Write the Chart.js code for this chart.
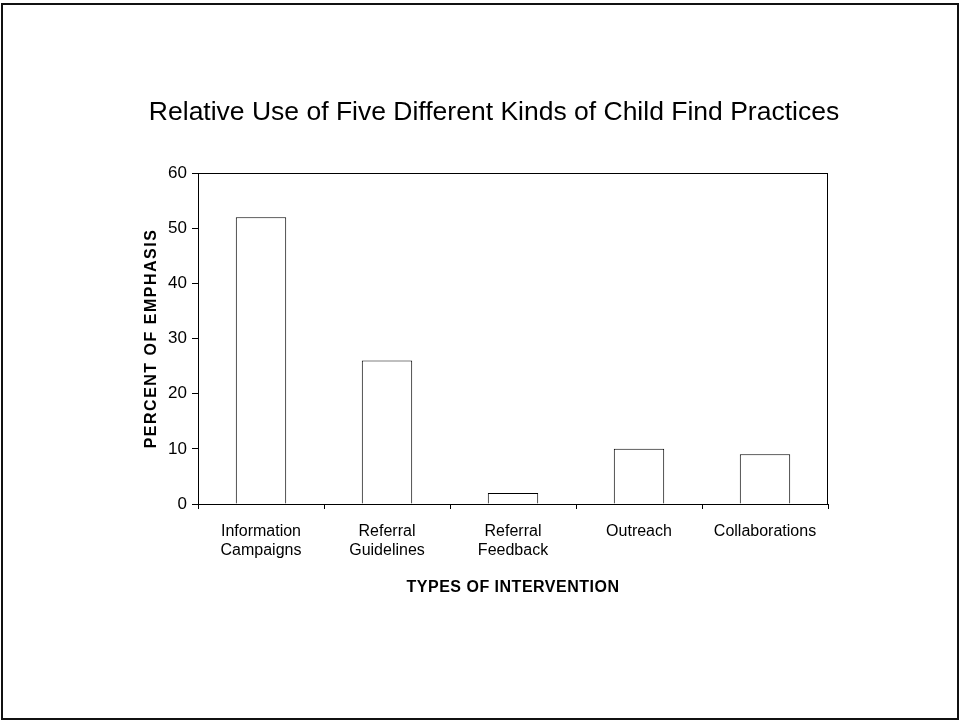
<!DOCTYPE html>
<html>
<head>
<meta charset="utf-8">
<script src="https://cdn.jsdelivr.net/npm/chart.js@4.4.0/dist/chart.umd.min.js"></script>
<style>
    html, body { margin: 0; padding: 0; background: #fff; }
    #frame {
        position: absolute; left: 1px; top: 3px;
        width: 954px; height: 713px;
        border: 2px solid #111;
    }
    #wrap { position: absolute; left: 0; top: 0; width: 959px; height: 721px; }
</style>
</head>
<body>
<div id="frame"></div>
<div id="wrap"><canvas id="chart" width="959" height="721"></canvas></div>
<script>
// data
const categories = [
    ['Information', 'Campaigns'],
    ['Referral', 'Guidelines'],
    ['Referral', 'Feedback'],
    ['Outreach'],
    ['Collaborations']
];
const percentEmphasis = [52, 26, 2, 10, 9];
const yTicks = [0, 10, 20, 30, 40, 50, 60];

const chartTitle = 'Relative Use of Five Different Kinds of Child Find Practices';
const FONT = '"Liberation Sans", Arial, sans-serif';

// title centred on the slide, not on the plot
const titlePlugin = {
    id: 'slideTitle',
    afterDraw(chart) {
        const ctx = chart.ctx;
        ctx.save();
        ctx.font = '26.5px ' + FONT;
        ctx.fillStyle = '#000';
        ctx.textAlign = 'center';
        ctx.textBaseline = 'middle';
        ctx.fillText(chartTitle, 494, 113);
        ctx.restore();
    }
};

// plot frame (top and right edges) + spaced-out axis titles
const framePlugin = {
    id: 'plotFrame',
    afterLayout(chart) {
        const spacing = { x: '0.5px', y: '1.5px' };
        Object.keys(spacing).forEach(id => {
            const sc = chart.scales[id];
            if (sc._spaced) return;
            const orig = sc.drawTitle;
            sc.drawTitle = function () {
                const ctx = this.ctx;
                const old = ctx.letterSpacing;
                ctx.letterSpacing = spacing[id];
                orig.apply(this, arguments);
                ctx.letterSpacing = old || '0px';
            };
            sc._spaced = true;
        });
    },
    afterDatasetsDraw(chart) {
        const a = chart.chartArea;
        const ctx = chart.ctx;
        ctx.save();
        ctx.strokeStyle = '#000';
        ctx.lineWidth = 1;
        ctx.strokeRect(a.left + 0.5, a.top + 0.5, a.right - a.left - 1, a.bottom - a.top);
        ctx.restore();
    }
};

new Chart(document.getElementById('chart'), {
    type: 'bar',
    data: {
        labels: categories,
        datasets: [{
            data: percentEmphasis,
            backgroundColor: '#fff',
            borderColor: '#000',
            borderWidth: 1,
            barPercentage: 0.4,
            categoryPercentage: 1
        }]
    },
    options: {
        responsive: false,
        animation: false,
        layout: { padding: { left: 138, right: 131, top: 173, bottom: 120 } },
        plugins: {
            legend: { display: false },
            tooltip: { enabled: false }
        },
        scales: {
            x: {
                offset: true,
                grid: {
                    display: true,
                    offset: true,
                    drawOnChartArea: false,
                    color: '#000',
                    tickLength: 5,
                    tickColor: '#000'
                },
                border: { display: true, color: '#000', width: 1 },
                ticks: {
                    color: '#000',
                    font: { family: FONT, size: 16 },
                    maxRotation: 0,
                    autoSkip: false,
                    padding: 13
                },
                title: {
                    display: true,
                    text: 'TYPES OF INTERVENTION',
                    color: '#000',
                    font: { family: FONT, size: 16, weight: 'bold' },
                    padding: { top: 14, bottom: 4 }
                },
                afterFit(scale) { scale.height = 97; }
            },
            y: {
                min: 0,
                max: 60,
                afterBuildTicks(scale) { scale.ticks = yTicks.map(v => ({ value: v })); },
                grid: {
                    display: true,
                    drawOnChartArea: false,
                    color: '#000',
                    tickLength: 6,
                    tickColor: '#000'
                },
                border: { display: true, color: '#000', width: 1 },
                ticks: {
                    color: '#000',
                    font: { family: FONT, size: 17 },
                    padding: 5
                },
                title: {
                    display: true,
                    text: 'PERCENT OF EMPHASIS',
                    color: '#000',
                    font: { family: FONT, size: 16, weight: 'bold' },
                    padding: { bottom: 10 }
                },
                afterFit(scale) { scale.width = 60; }
            }
        }
    },
    plugins: [titlePlugin, framePlugin]
});
</script>
</body>
</html>
